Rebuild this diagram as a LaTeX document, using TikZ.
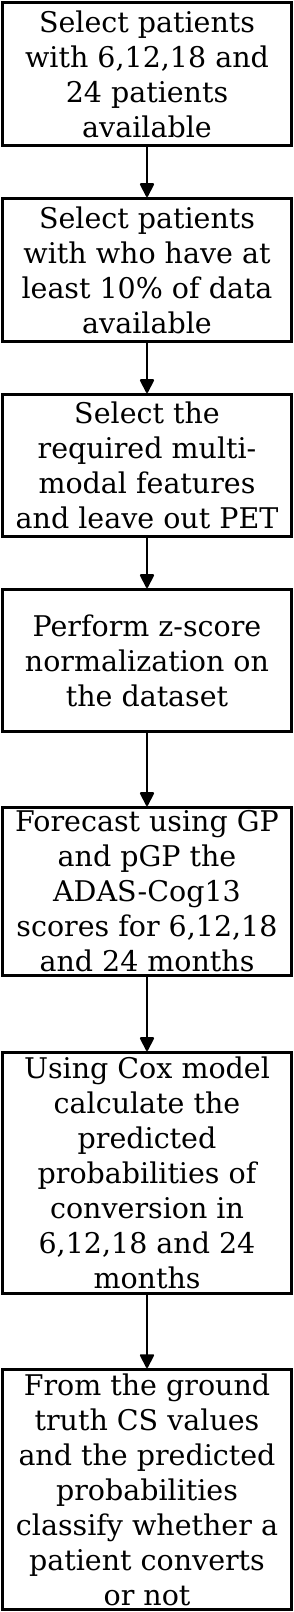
\documentclass[tikz,border=0pt]{standalone}
\usepackage{fontspec}
\setmainfont{DejaVu Serif}
\usetikzlibrary{arrows.meta}
\begin{document}
\begin{tikzpicture}[x=1pt,y=1pt,
  stepbox/.style={draw=black, line width=3pt, minimum width=289pt, inner sep=0pt,
    align=center, font=\fontsize{28.5}{35}\selectfont},
  flow/.style={line width=2pt, -{Triangle[length=15pt,width=15pt,round]}}]
\useasboundingbox (0,0) rectangle (294,-1612);
\fill[white] (0,0) rectangle (294,-1612);
\node[stepbox, minimum height=143pt] (b1) at (147,-74) {Select patients\\with 6,12,18 and\\24 patients\\available};
\node[stepbox, minimum height=143pt] (b2) at (147,-270) {Select patients\\with who have at\\least 10\% of data\\available};
\node[stepbox, minimum height=142pt] (b3) at (147,-465.5) {Select the\\required multi-\\modal features\\and leave out PET};
\node[stepbox, minimum height=142pt] (b4) at (147,-660.5) {Perform z-score\\normalization on\\the dataset};
\node[stepbox, minimum height=168pt] (b5) at (147,-891.5) {Forecast using GP\\and pGP the\\ADAS-Cog13\\scores for 6,12,18\\and 24 months};
\node[stepbox, minimum height=241pt] (b6) at (147,-1173) {Using Cox model\\calculate the\\predicted\\probabilities of\\conversion in\\6,12,18 and 24\\months};
\node[stepbox, minimum height=240pt] (b7) at (147,-1489.5) {From the ground\\truth CS values\\and the predicted\\probabilities\\classify whether a\\patient converts\\or not};
\draw[flow] (b1.south) -- (b2.north);
\draw[flow] (b2.south) -- (b3.north);
\draw[flow] (b3.south) -- (b4.north);
\draw[flow] (b4.south) -- (b5.north);
\draw[flow] (b5.south) -- (b6.north);
\draw[flow] (b6.south) -- (b7.north);
\end{tikzpicture}
\end{document}
